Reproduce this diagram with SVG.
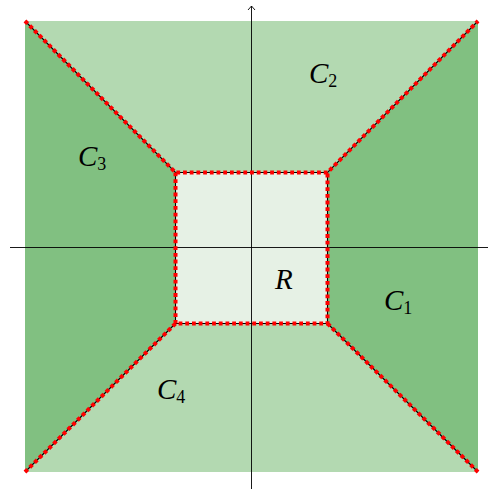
<svg xmlns="http://www.w3.org/2000/svg" width="488" height="489" viewBox="0 0 488 489">
<style>
.lbl{font-family:"Liberation Serif",serif;font-style:italic;font-size:29px;fill:#000}
.sub{font-family:"Liberation Serif",serif;font-size:18px;font-style:normal}
.base{stroke:#000;stroke-width:1.1;fill:none}
.dots{stroke:#ff0000;stroke-width:4;stroke-dasharray:3.8 2.9;fill:none}
.axis{stroke:#000;stroke-width:0.9;fill:none}
</style>
<g id="regions">
<rect id="R-bg" x="25" y="21" width="453" height="451" fill="#b3d9b1"/>
<polygon id="C3" points="25,21 175.5,172.5 175.5,323.5 25,472" fill="#81c081"/>
<polygon id="C1" points="478,21 327.5,172.5 327.5,323.5 478,472" fill="#81c081"/>
<rect id="R" x="175.5" y="172.5" width="152" height="151" fill="#e6f1e5"/>
</g>
<g id="axes">
<line class="axis" x1="10" y1="247.5" x2="488" y2="247.5"/>
<line class="axis" x1="251.5" y1="489" x2="251.5" y2="6"/>
<path class="axis" d="M248,10 L251.5,6 L255,10"/>
</g>
<g id="connectors">
<path class="base" d="M25,21 L175.5,172.5 L327.5,172.5 L478,21 M175.5,172.5 L175.5,323.5 L327.5,323.5 L327.5,172.5 M175.5,323.5 L25,472 M327.5,323.5 L478,472"/>
<path class="dots" d="M25,21 L175.5,172.5 L327.5,172.5 L478,21 M175.5,172.5 L175.5,323.5 L327.5,323.5 L327.5,172.5 M175.5,323.5 L25,472 M327.5,323.5 L478,472"/>
</g>
<g id="labels">
<text class="lbl" x="309" y="83">C<tspan class="sub" dy="4">2</tspan></text>
<text class="lbl" x="78" y="166">C<tspan class="sub" dy="4">3</tspan></text>
<text class="lbl" x="384" y="310">C<tspan class="sub" dy="4">1</tspan></text>
<text class="lbl" x="157" y="399">C<tspan class="sub" dy="4">4</tspan></text>
<text class="lbl" x="275" y="289">R</text>
</g>
</svg>
